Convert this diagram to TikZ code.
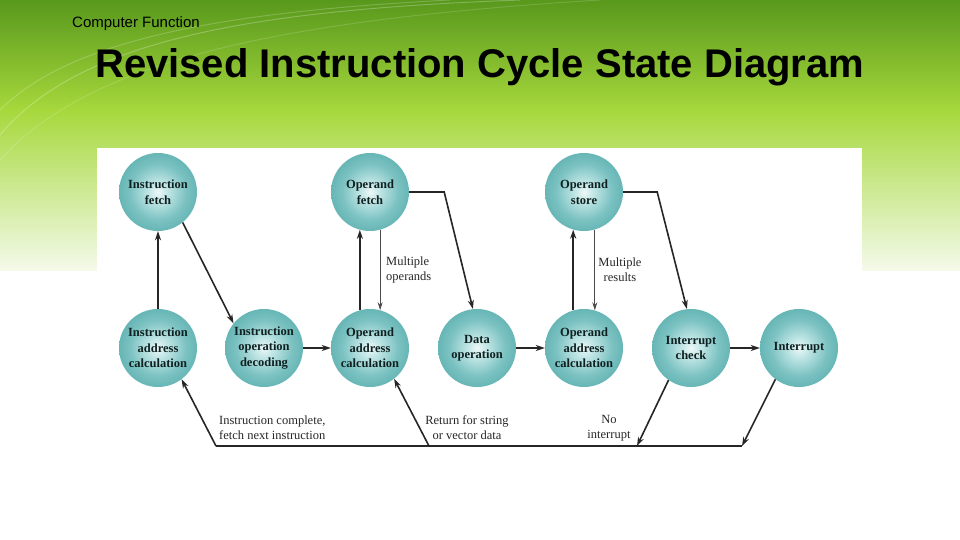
\documentclass[tikz,border=0pt]{standalone}
\usepackage{fontspec}
\setmainfont{Liberation Serif}
\newfontfamily\sansf{Liberation Sans}
\usetikzlibrary{arrows.meta}
\definecolor{bgTop}{HTML}{58981C}
\definecolor{bgMid}{HTML}{A6D83C}
\definecolor{bgLow}{HTML}{F4FAEA}
\definecolor{ballA}{HTML}{EEF8F8}
\definecolor{ballB}{HTML}{C2E6E6}
\definecolor{ballC}{HTML}{7CC2C2}
\definecolor{ballE}{HTML}{4CA6A6}
\definecolor{ballD}{HTML}{389494}
\definecolor{ballText}{HTML}{102020}
\definecolor{lineC}{HTML}{262626}
\definecolor{thinC}{HTML}{4A4A4A}
\pgfdeclareradialshading{ballshade}{\pgfpoint{0bp}{0bp}}{color(0bp)=(ballA); color(6bp)=(ballB); color(18bp)=(ballC); color(34bp)=(ballE); color(50bp)=(ballD); color(72bp)=(ballD)}
\tikzset{
  ball/.style={circle, minimum size=78pt, inner sep=0pt, shade, shading=ballshade,
    font=\fontsize{12.5}{15.5}\selectfont\bfseries, text=ballText, align=center},
  conn/.style={draw=lineC, line width=1.6pt},
  arr/.style={conn, -{Stealth[length=9pt,width=6pt]}},
  thinarr/.style={draw=thinC, line width=1pt, -{Stealth[length=8pt,width=5pt]}},
  lbl/.style={font=\fontsize{12.5}{15}\selectfont, text=black!85, inner sep=0pt}
}
\begin{document}
\begin{tikzpicture}[x=1pt,y=-1pt]
\useasboundingbox (0,0) rectangle (960,540);
% background
\fill[white] (0,0) rectangle (960,540);
\shade[top color=bgTop, bottom color=bgMid] (0,0) rectangle (960,110);
\shade[top color=bgMid, bottom color=bgLow] (0,109.5) rectangle (960,270);
\draw[white, opacity=0.25, line width=1pt] (0,135) .. controls (80,40) and (250,10) .. (520,0);
\draw[white, opacity=0.2, line width=1pt] (0,110) .. controls (70,40) and (220,12) .. (450,0);
\draw[white, opacity=0.15, line width=1pt] (0,160) .. controls (90,60) and (280,20) .. (600,0);
% headings
\node[anchor=base west, inner sep=0pt, font=\sansf\fontsize{15}{16}\selectfont] (hdr) at (72,28) {Computer Function};
\node[anchor=base west, inner sep=0pt, font=\sansf\bfseries\fontsize{40}{42}\selectfont] (ttl) at (95,78) {Revised Instruction Cycle State Diagram};
% image area
\fill[white] (97,148) rectangle (862,462);
% states
\node[ball] (IF) at (158,192) {Instruction\\fetch};
\node[ball] (OF) at (370,192) {Operand\\fetch};
\node[ball] (OS) at (584,192) {Operand\\store};
\node[ball] (IA) at (158,348) {Instruction\\address\\calculation};
\node[ball] (ID) at (264,348) {Instruction\\operation\\decoding};
\node[ball] (OA1) at (370,348) {Operand\\address\\calculation};
\node[ball] (DO) at (477,348) {Data\\operation};
\node[ball] (OA2) at (584,348) {Operand\\address\\calculation};
\node[ball] (IC) at (691,348) {Interrupt\\check};
\node[ball] (INT) at (799,348) {Interrupt};
% connectors
\draw[arr] (IA.north) -- (IF.south);
\draw[arr] (IF.-51) -- (ID.141);
\draw[arr] (ID.east) -- (OA1.west);
\draw[arr] (OA1.105) -- (OF.255);
\draw[thinarr] (OF.-75) -- (OA1.75);
\draw[arr] (OF.east) -- ++(35,0) -- (DO.96);
\draw[arr] (DO.east) -- (OA2.west);
\draw[arr] (OA2.106) -- (OS.254);
\draw[thinarr] (OS.-74) -- (OA2.74);
\draw[arr] (OS.east) -- ++(34,0) -- (IC.96);
\draw[arr] (IC.east) -- (INT.west);
% return bus
\coordinate (b1) at (216,446);
\coordinate (b2) at (429,446);
\coordinate (b3) at (637,446);
\coordinate (b4) at (742,446);
\draw[conn] (b1) -- (b4);
\draw[arr] (INT.233) -- (b4);
\draw[arr] (IC.235) -- (b3);
\draw[arr] (b1) -- (IA.-53);
\draw[arr] (b2) -- (OA1.-52);
% labels
\node[lbl, anchor=west, align=left] (l1) at (386,270) {Multiple\\operands};
\node[lbl, align=center] (l2) at (620,270) {Multiple\\results};
\node[lbl, anchor=west, align=left] (l3) at (219,428) {Instruction complete,\\fetch next instruction};
\node[lbl, align=center] (l4) at (467,428) {Return for string\\or vector data};
\node[lbl, align=center] (l5) at (609,428) {No\\interrupt};
\end{tikzpicture}
\end{document}
